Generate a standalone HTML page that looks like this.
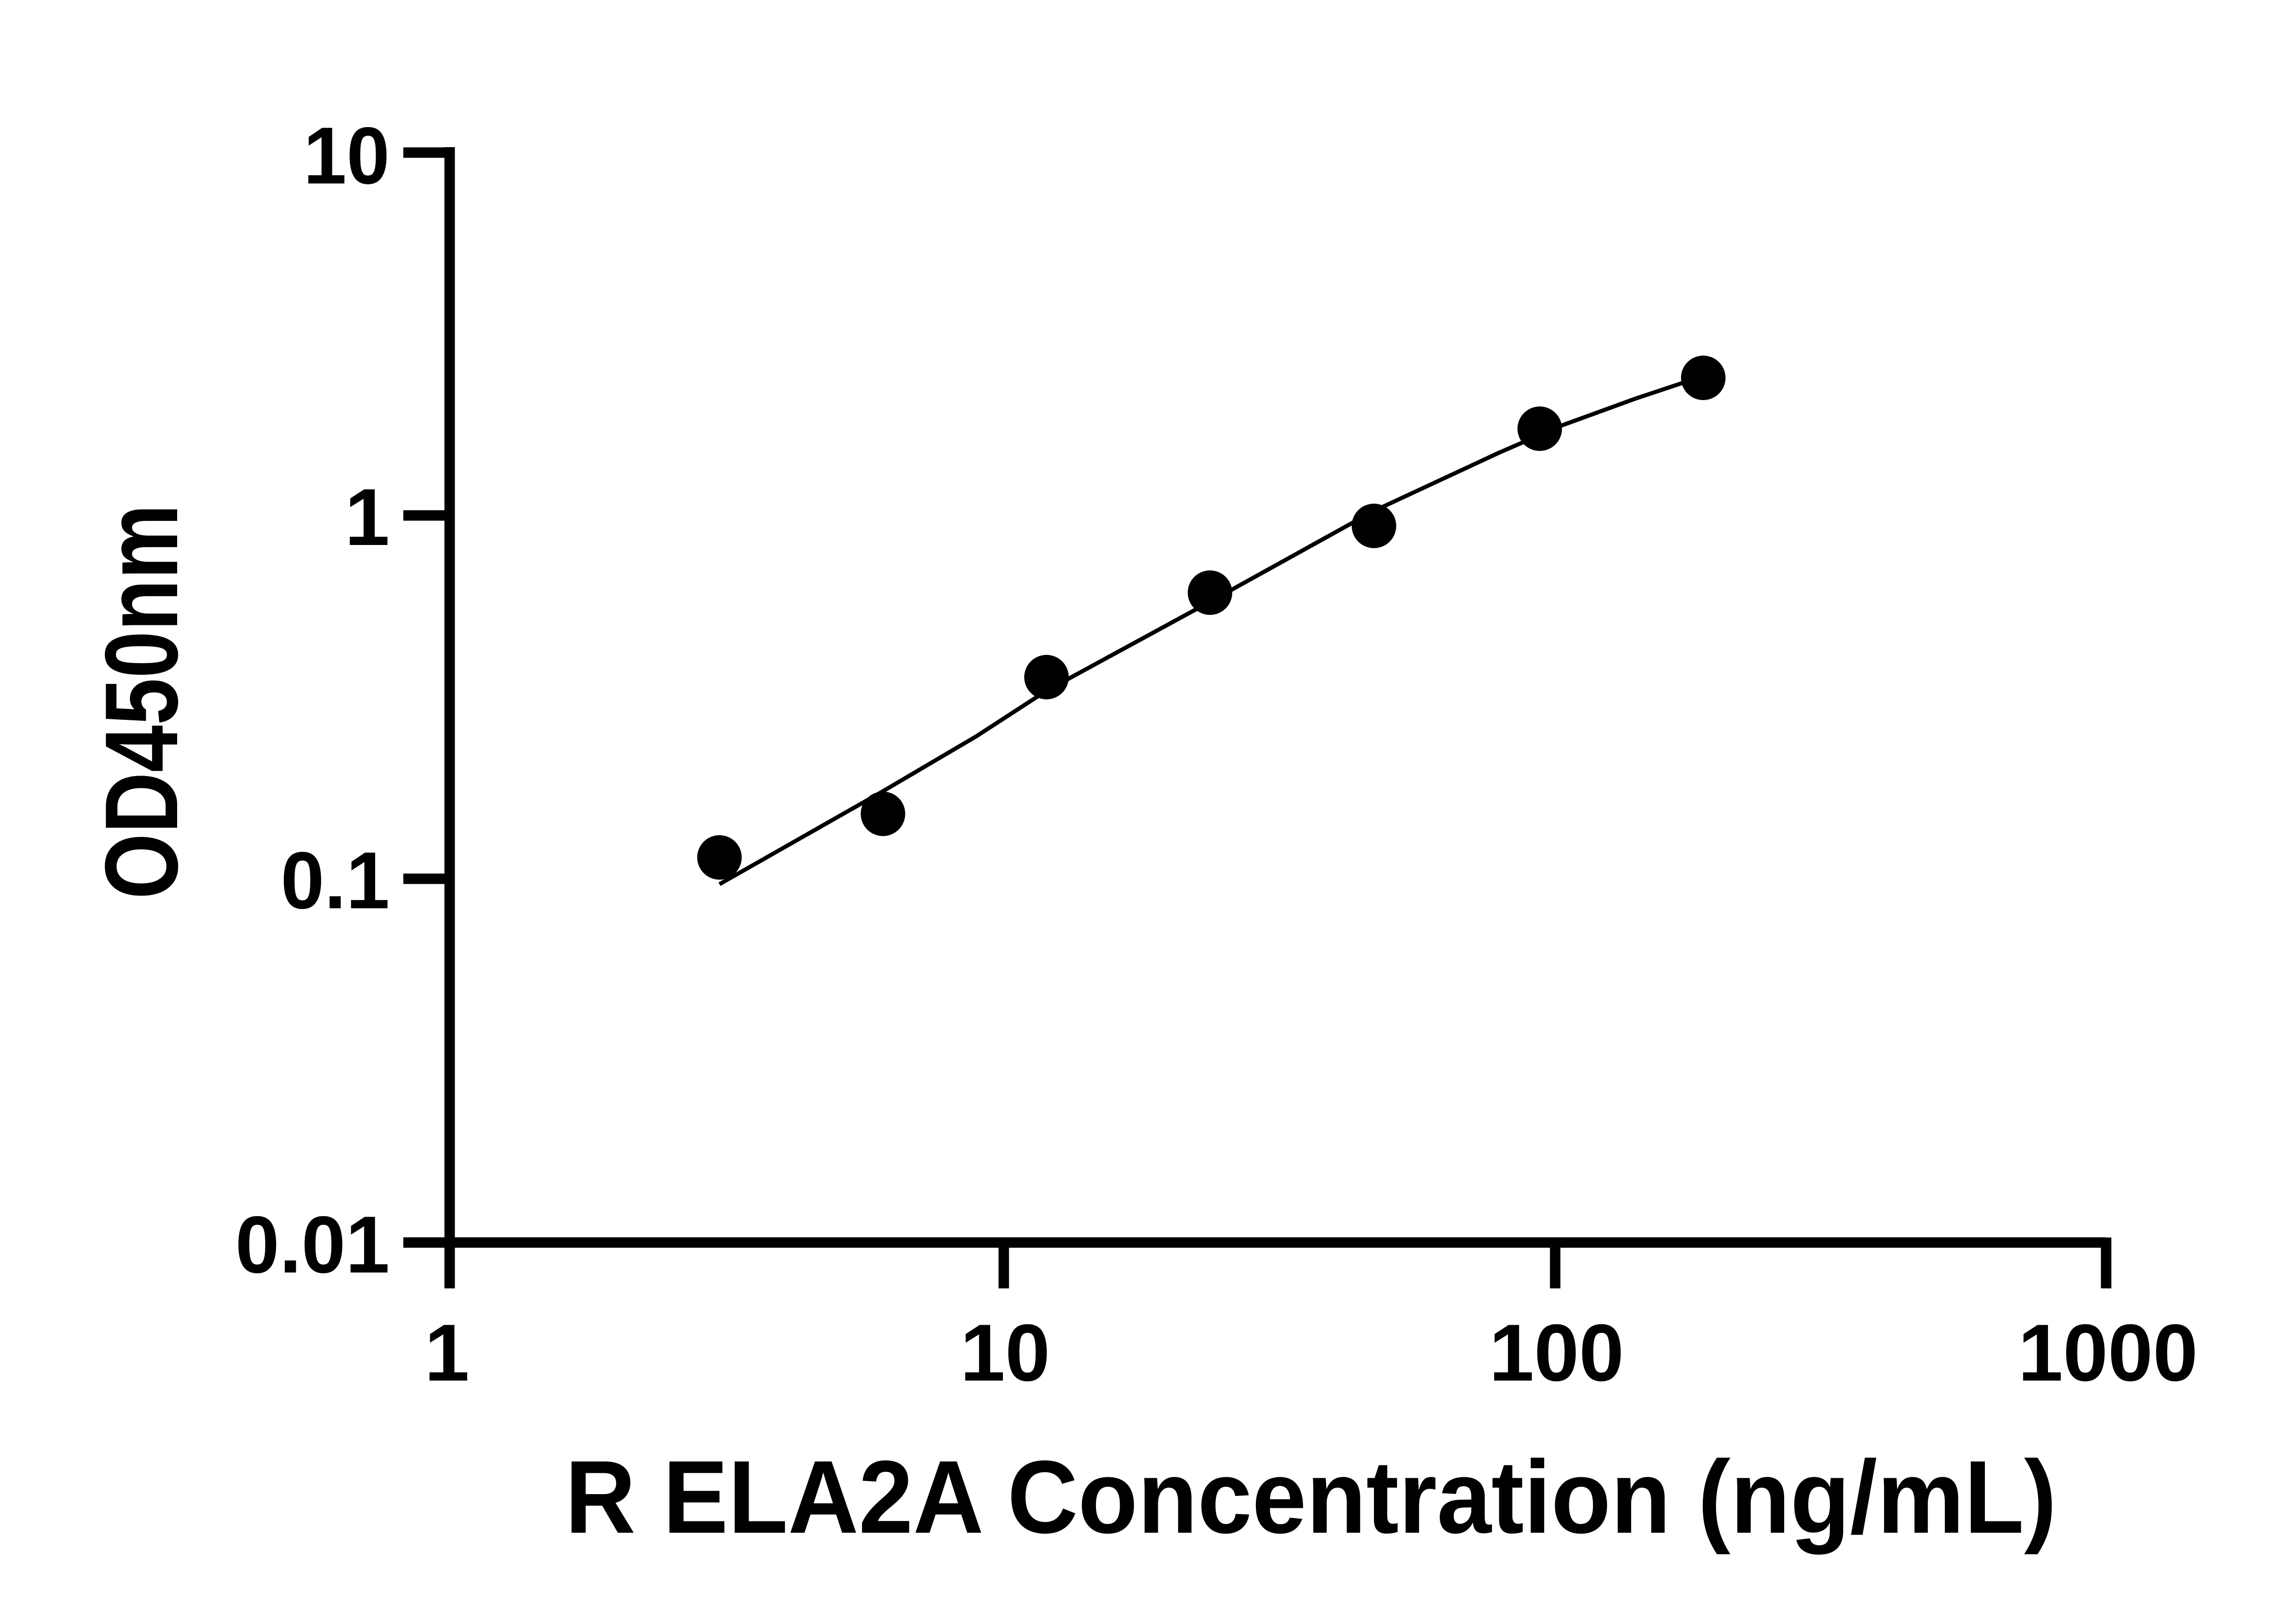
<!DOCTYPE html>
<html><head><meta charset="utf-8"><style>html,body{margin:0;padding:0;background:#fff}svg{display:block}</style></head>
<body>
<svg width="5142" height="3576" viewBox="0 0 5142 3576" xmlns="http://www.w3.org/2000/svg">
<rect width="5142" height="3576" fill="#fff"/>
<g stroke="#000" stroke-width="23" fill="none">
<line x1="990" y1="324" x2="990" y2="2837"/>
<line x1="979" y1="2736" x2="4637" y2="2736"/>
<line x1="888" y1="336" x2="1001" y2="336"/>
<line x1="888" y1="1135" x2="990" y2="1135"/>
<line x1="888" y1="1935" x2="990" y2="1935"/>
<line x1="888" y1="2736" x2="990" y2="2736"/>
<line x1="2210" y1="2736" x2="2210" y2="2837"/>
<line x1="3424" y1="2736" x2="3424" y2="2837"/>
<line x1="4637" y1="2725" x2="4637" y2="2837"/>
</g>
<g font-family="Liberation Sans, Arial, sans-serif" font-weight="bold" font-size="178" fill="#000">
<text x="858" y="404" text-anchor="end" textLength="190" lengthAdjust="spacingAndGlyphs">10</text>
<text x="858" y="1200" text-anchor="end">1</text>
<text x="858" y="2000" text-anchor="end" textLength="240" lengthAdjust="spacingAndGlyphs">0.1</text>
<text x="858" y="2802" text-anchor="end" textLength="340" lengthAdjust="spacingAndGlyphs">0.01</text>
</g>
<g font-family="Liberation Sans, Arial, sans-serif" font-weight="bold" font-size="178" fill="#000" text-anchor="middle">
<text x="984" y="3040">1</text>
<text x="2213" y="3040">10</text>
<text x="3427" y="3040">100</text>
<text x="4641" y="3040">1000</text>
</g>
<text x="1244" y="3375" font-family="Liberation Sans, Arial, sans-serif" font-weight="bold" font-size="228" textLength="3284" lengthAdjust="spacingAndGlyphs">R ELA2A Concentration (ng/mL)</text>
<text transform="translate(390,1980) rotate(-90)" font-family="Liberation Sans, Arial, sans-serif" font-weight="bold" font-size="228" textLength="870" lengthAdjust="spacingAndGlyphs">OD450nm</text>
<polyline points="1584,1947 1941,1744 2150,1621 2304,1521 2664,1325 3025,1125 3300,997 3438,937 3600,878 3702,844 3750,830" stroke="#000" stroke-width="9" fill="none" stroke-linejoin="round"/>
<g fill="#000">
<circle cx="1584" cy="1888" r="49"/>
<circle cx="1944" cy="1792" r="49"/>
<circle cx="2304" cy="1491" r="49"/>
<circle cx="2664" cy="1305" r="49"/>
<circle cx="3025" cy="1158" r="49"/>
<circle cx="3390" cy="944" r="49"/>
<circle cx="3750" cy="832" r="49"/>
</g>
</svg>
</body></html>
